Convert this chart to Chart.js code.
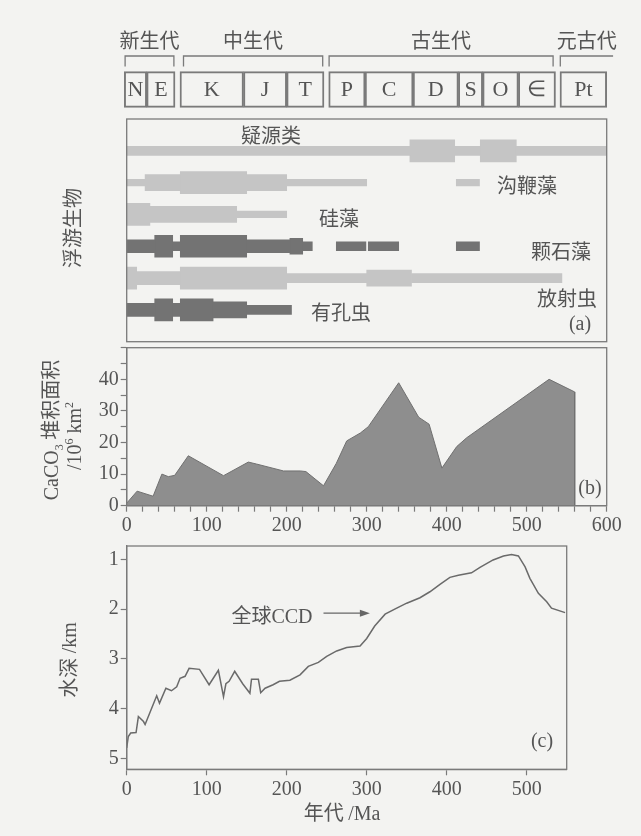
<!DOCTYPE html>
<html><head><meta charset="utf-8">
<script src="https://cdn.jsdelivr.net/npm/chart.js@4.4.1/dist/chart.umd.min.js"></script>
<style>
html,body{margin:0;padding:0;background:#f3f3f1;}
body{width:641px;height:836px;position:relative;overflow:hidden;font-family:'Noto Sans CJK SC',sans-serif;color:#555;}
canvas{position:absolute;left:0;}
.t{position:absolute;white-space:nowrap;transform:translate(-50%,-50%);font-size:20px;line-height:1;}
.r{transform:translate(-50%,-50%) rotate(-90deg);}
.s{font-family:'Liberation Serif',serif;}
sub,sup{font-size:60%;line-height:0;}
</style></head><body>
<canvas id="hdr" width="641" height="110" style="top:20px"></canvas>
<canvas id="pa" width="641" height="230" style="top:115px"></canvas>
<canvas id="pb" width="641" height="215" style="top:330px"></canvas>
<canvas id="pc" width="641" height="306" style="top:530px"></canvas>

<div class="t" style="left:271px;top:135px">疑源类</div>
<div class="t" style="left:527px;top:185px">沟鞭藻</div>
<div class="t" style="left:339px;top:218px">硅藻</div>
<div class="t" style="left:561px;top:251px">颗石藻</div>
<div class="t" style="left:567px;top:298px">放射虫</div>
<div class="t" style="left:341px;top:312px">有孔虫</div>
<div class="t s" style="left:580px;top:323px">(a)</div>
<div class="t s" style="left:590px;top:487px">(b)</div>
<div class="t s" style="left:542px;top:740px">(c)</div>
<div class="t r" style="left:72px;top:228px">浮游生物</div>
<div class="t r" style="left:50px;top:430px"><span class="s">CaCO<sub>3</sub></span> 堆积面积</div>
<div class="t r s" style="left:74px;top:436px">/10<sup>6</sup> km<sup>2</sup></div>
<div class="t r" style="left:68px;top:660px">水深 <span class="s">/km</span></div>
<div class="t" style="left:342px;top:812px">年代 <span class="s">/Ma</span></div>
<div class="t" style="left:272px;top:615px">全球<span class="s">CCD</span></div>

<script>
// ---------- DATA ----------
const periodNames = ['N','E','K','J','T','P','C','D','S','O','\u2208','Pt'];
const periodStart = [-3, 25, 66.6, 146, 200, 252.5, 298, 358, 414.6, 445, 489.6, 541.6];
const periodEnd   = [25, 60.4, 146, 200, 246.6, 298, 358, 414.6, 445, 489.6, 536, 600];
const eraNames = ['新生代','中生代','古生代','元古代'];
const eraStart = [-2, 71, 253, 542];
const eraEnd   = [59, 245, 533, 608];

const planktonGroups = ['疑源类','沟鞭藻','硅藻','颗石藻','放射虫','有孔虫'];
// segments: [start Ma, end Ma, abundance level 1..5]
const acritarchs     = [[0,354,2],[354,410,5],[410,442,2],[442,487,5],[487,600,2]];
const dinoflagellates= [[0,23,1],[23,67,4],[67,150,5],[150,200,4],[200,300,1],[412,441,1]];
const diatoms        = [[0,29,5],[29,137.5,4],[137.5,200,1]];
const coccoliths     = [[0,35,3],[35,57.5,5],[57.5,67,2],[67,150,5],[150,204,3],[204,220,4],[220,232,2],[262,299,2],[302,340,2],[412,441,2]];
const radiolarians   = [[0,12.5,5],[12.5,67,3],[67,200,5],[200,300,2],[300,356,4],[356,544,2]];
const foraminifera   = [[0,35,3],[35,57.5,5],[57.5,67,3],[67,108,5],[108,150,4],[150,206,2]];

const carbMa   = [0,13,33,44,52,60,77,121,152,162,196,217,224,246,262,275,292,302,340,365,378,394,412.5,425,528,560,560];
const carbArea = [0.8,4.6,3,10,9.2,9.6,15.8,9.5,13.8,13.2,11,11,10.8,6.3,13.4,20.5,23,25,38.9,28,25.8,11.9,18.7,21.5,40,36,0];

const ccdMa = [0,2,5,11.7,14.6,21,23,37.5,41,49,56,62.5,66.7,73,78,91,103,114.6,121,124,128,135,145,154,156,164.6,167.5,173,183,191,204,216.7,227,239.6,250,262.5,275,291.7,300,310,323,337.5,350,366.6,379,391.6,404,414.6,431,441.6,458,471,481,489.6,498,504,514.6,525,531,548];
const ccdDepth = [4.79,4.56,4.49,4.48,4.16,4.26,4.32,3.74,3.89,3.59,3.64,3.56,3.39,3.35,3.19,3.21,3.52,3.23,3.76,3.5,3.45,3.25,3.5,3.69,3.41,3.41,3.68,3.59,3.52,3.45,3.43,3.32,3.15,3.07,2.95,2.84,2.77,2.74,2.59,2.34,2.10,1.98,1.88,1.77,1.65,1.50,1.36,1.32,1.27,1.16,1.01,0.93,0.90,0.93,1.15,1.38,1.68,1.85,1.98,2.07];
const ccdArrow = {from: 246, to: 304, depth: 2.08};

const carbTicks = [0,10,20,30,40];
const ageTicks = [0,100,200,300,400,500,600];
const depthTicks = [1,2,3,4,5];

// ---------- STYLE ----------
const SERIF = "'Liberation Serif','Times New Roman',serif";
const CJK = "'Noto Sans CJK SC',sans-serif";
const TXT = '#555';
const LINE = '#7a7a7a';
const LIGHT = '#c5c5c5', DARK = '#737373';
const groupShade = {'疑源类':LIGHT,'沟鞭藻':LIGHT,'硅藻':LIGHT,'颗石藻':DARK,'放射虫':LIGHT,'有孔虫':DARK};
const levelPx = {1:6.5, 2:9, 3:13, 4:16, 5:22};
const common = {responsive:false, animation:false, devicePixelRatio:1, events:[],
  plugins:{legend:{display:false}, tooltip:{enabled:false}}};

const framePlugin = {id:'frame', afterDraw(chart, args, o){
  if(!o || !o.on) return;
  const {ctx, chartArea:a} = chart;
  ctx.save(); ctx.strokeStyle = LINE; ctx.lineWidth = 1.3;
  ctx.strokeRect(a.left, a.top, a.right-a.left, a.bottom-a.top);
  ctx.restore();
}};

// ---------- HEADER (periods) ----------
const hdrPlugin = {id:'hdr', afterDatasetsDraw(chart){
  const {ctx, scales:{x}} = chart;
  const meta = chart.getDatasetMeta(0);
  ctx.save();
  ctx.fillStyle = TXT; ctx.textAlign='center'; ctx.textBaseline='middle';
  ctx.font = '22px ' + SERIF;
  meta.data.forEach((el,i)=>{
    const cx = (el.x + el.base)/2;
    ctx.fillText(periodNames[i], cx, el.y + 1);
  });
  ctx.strokeStyle = LINE; ctx.lineWidth = 1.3;
  ctx.font = '20px ' + CJK;
  eraNames.forEach((n,i)=>{
    const x1 = x.getPixelForValue(eraStart[i]), x2 = x.getPixelForValue(eraEnd[i]);
    const yb = 36, yt = 46.5;
    ctx.beginPath();
    ctx.moveTo(x1, yt); ctx.lineTo(x1, yb); ctx.lineTo(x2, yb);
    if (eraEnd[i] <= 600) ctx.lineTo(x2, yt);
    ctx.stroke();
    ctx.fillText(n, (x1+x2)/2, 20);
  });
  ctx.restore();
}};
new Chart(document.getElementById('hdr'), {
  type:'bar',
  data:{datasets:[{data: periodStart.map((s,i)=>({x:[s, periodEnd[i]], y:1})),
    backgroundColor:'rgba(0,0,0,0)', borderColor:LINE, borderWidth:1.3, borderSkipped:false,
    barThickness:35.6, clip:10}]},
  options:{...common, indexAxis:'y',
    layout:{padding:{left:126.7, right:34.3, top:33.9, bottom:4.9}},
    scales:{x:{type:'linear', min:0, max:600, display:false},
            y:{type:'linear', min:0, max:2, offset:false, display:false, ticks:{stepSize:1}}}},
  plugins:[hdrPlugin]
});

// ---------- PANEL (a) ----------
const groupSegs = [acritarchs, dinoflagellates, diatoms, coccoliths, radiolarians, foraminifera];
const aSets = [];
[LIGHT, DARK].forEach(col=>{
  [1,2,3,4,5].forEach(lv=>{
    const data = [];
    groupSegs.forEach((segs, gi)=>{
      if (groupShade[planktonGroups[gi]] !== col) return;
      segs.forEach(s=>{ if (s[2]===lv) data.push({x:[s[0], s[1]], y: gi+1}); });
    });
    if (data.length) aSets.push({data, backgroundColor:col, borderWidth:0, grouped:false,
      maxBarThickness: levelPx[lv], barThickness: levelPx[lv]});
  });
});
new Chart(document.getElementById('pa'), {
  type:'bar',
  data:{datasets:aSets},
  options:{...common, indexAxis:'y',
    plugins:{...common.plugins, frame:{on:true}},
    layout:{padding:{left:126.7, right:34.3, top:4, bottom:3.3}},
    scales:{x:{type:'linear', min:0, max:600, display:false},
            y:{type:'linear', min:0, max:7, reverse:true, offset:false, display:false, ticks:{stepSize:1}}}},
  plugins:[framePlugin]
});

// ---------- PANEL (b) ----------
const tickFont = {family:SERIF, size:20};
new Chart(document.getElementById('pb'), {
  type:'line',
  data:{datasets:[{data: carbMa.map((x,i)=>({x, y:carbArea[i]})), fill:'origin',
    backgroundColor:'#8e8e8e', borderColor:'#707070', borderWidth:1, pointRadius:0, tension:0}]},
  options:{...common,
    plugins:{...common.plugins, frame:{on:true}},
    layout:{padding:{left:0, right:34.3, top:17.7, bottom:0}},
    scales:{
      x:{type:'linear', min:0, max:600,
        ticks:{stepSize:20, autoSkip:false, maxRotation:0, font:tickFont, color:TXT, padding:2,
          callback:v=> ageTicks.includes(v) ? v : ''},
        grid:{drawOnChartArea:false, tickLength:6, color:LINE, tickWidth:1.2},
        border:{color:LINE, width:1.3},
        afterFit:s=>{s.height = 39.3;}},
      y:{type:'linear', min:0, max:50,
        ticks:{stepSize:5, autoSkip:false, font:tickFont, color:TXT, padding:2,
          callback:v=> carbTicks.includes(v) ? v : ''},
        grid:{drawOnChartArea:false, tickLength:6, color:LINE, tickWidth:1.2},
        border:{color:LINE, width:1.3},
        afterFit:s=>{s.width = 126.7;}}
    }},
  plugins:[framePlugin]
});

// ---------- PANEL (c) ----------
const arrowPlugin = {id:'arrow', afterDatasetsDraw(chart){
  const {ctx, scales:{x,y}} = chart;
  const x1 = x.getPixelForValue(ccdArrow.from), x2 = x.getPixelForValue(ccdArrow.to);
  const yy = y.getPixelForValue(ccdArrow.depth);
  ctx.save(); ctx.strokeStyle = '#666'; ctx.fillStyle = '#666'; ctx.lineWidth = 1.3;
  ctx.beginPath(); ctx.moveTo(x1, yy); ctx.lineTo(x2-8, yy); ctx.stroke();
  ctx.beginPath(); ctx.moveTo(x2, yy); ctx.lineTo(x2-10, yy-3.5); ctx.lineTo(x2-10, yy+3.5); ctx.closePath(); ctx.fill();
  ctx.restore();
}};
new Chart(document.getElementById('pc'), {
  type:'line',
  data:{datasets:[{data: ccdMa.map((x,i)=>({x, y:ccdDepth[i]})), fill:false,
    borderColor:'#6a6a6a', borderWidth:1.5, pointRadius:0, tension:0}]},
  options:{...common,
    plugins:{...common.plugins, frame:{on:true}},
    layout:{padding:{left:0, right:74.3, top:16, bottom:0}},
    scales:{
      x:{type:'linear', min:0, max:550,
        afterBuildTicks:s=>{s.ticks = ageTicks.filter(v=>v<=550).map(v=>({value:v}));},
        ticks:{autoSkip:false, maxRotation:0, font:tickFont, color:TXT, padding:2},
        grid:{drawOnChartArea:false, tickLength:6, color:LINE, tickWidth:1.2},
        border:{color:LINE, width:1.3},
        afterFit:s=>{s.height = 66.7;}},
      y:{type:'linear', min:0.73, max:5.22, reverse:true,
        afterBuildTicks:s=>{s.ticks = depthTicks.map(v=>({value:v}));},
        ticks:{autoSkip:false, font:tickFont, color:TXT, padding:2},
        grid:{drawOnChartArea:false, tickLength:6, color:LINE, tickWidth:1.2},
        border:{color:LINE, width:1.3},
        afterFit:s=>{s.width = 126.7;}}
    }},
  plugins:[framePlugin, arrowPlugin]
});
</script>
</body></html>
